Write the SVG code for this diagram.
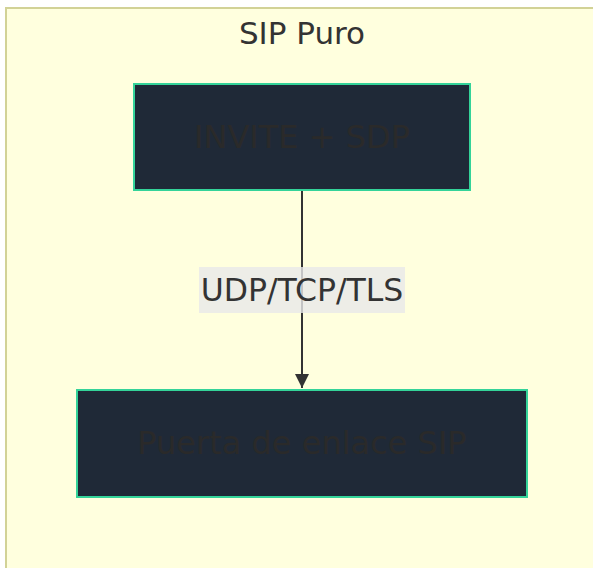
<svg xmlns="http://www.w3.org/2000/svg" width="593" height="568" viewBox="0 0 593 568">
<defs>
<style>
.cluster{fill:#ffffde;stroke:#d2d296;stroke-width:2}
.node rect{fill:#1f2937;stroke:#34d399;stroke-width:2}
.nlabel{font-family:"DejaVu Sans",sans-serif;font-size:32px;fill:#2a2a2a;text-anchor:middle;dominant-baseline:central}
.title{font-family:"DejaVu Sans",sans-serif;font-size:31px;fill:#333;text-anchor:middle;dominant-baseline:central}
.edge{stroke:#333;stroke-width:2;fill:none}
.elabel-bg{fill:#e8e8e8;opacity:0.8}
.elabel{font-family:"DejaVu Sans",sans-serif;font-size:31.5px;fill:#333;text-anchor:middle;dominant-baseline:central}
</style>
<marker id="arr" viewBox="0 0 14 14" refX="14" refY="7" markerWidth="14" markerHeight="14" markerUnits="userSpaceOnUse" orient="auto">
<path d="M0,0 L14,7 L0,14 z" fill="#333"/>
</marker>
</defs>
<g id="cluster-sip-puro">
<rect class="cluster" x="6" y="8" width="600" height="580"/>
<text class="title" x="302" y="33">SIP Puro</text>
</g>
<g id="connectors">
<path class="edge" d="M302,190 L302,388" marker-end="url(#arr)"/>
<rect class="elabel-bg" x="199" y="267" width="206" height="46"/>
<text class="elabel" x="302" y="290">UDP/TCP/TLS</text>
</g>
<g id="node-invite" class="node">
<rect x="134" y="84" width="336" height="106"/>
<text class="nlabel" x="302" y="137">INVITE + SDP</text>
</g>
<g id="node-gateway" class="node">
<rect x="77" y="390" width="450" height="107"/>
<text class="nlabel" x="302" y="443">Puerta de enlace SIP</text>
</g>
</svg>
